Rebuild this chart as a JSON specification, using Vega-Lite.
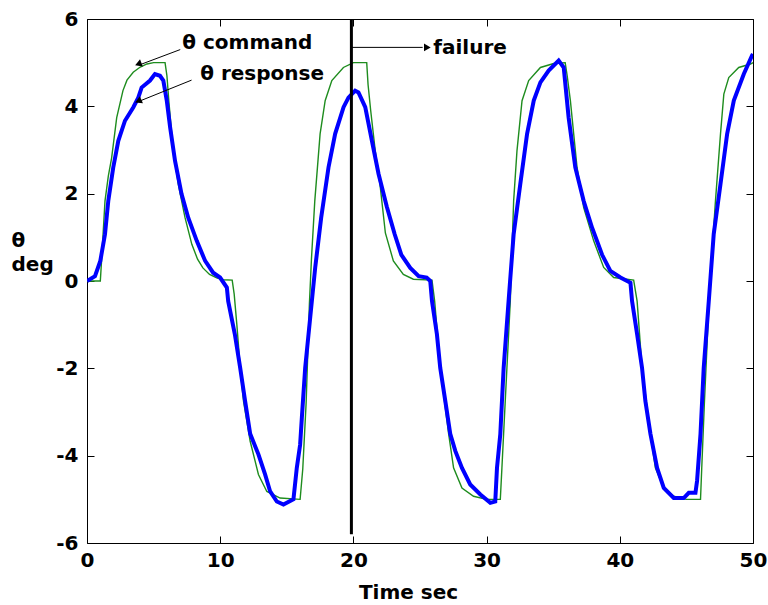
{
  "$schema": "https://vega.github.io/schema/vega-lite/v6.json",
  "width": 666,
  "height": 524,
  "autosize": {"type": "none"},
  "padding": {"left": 87, "top": 19, "right": 15, "bottom": 62},
  "background": "white",
  "config": {
    "view": {"stroke": "black", "strokeWidth": 1},
    "font": "DejaVu Sans",
    "axis": {"grid": false, "zindex": 1, "domain": false, "tickColor": "black", "tickWidth": 1, "tickSize": 7, "offset": -7, "labelFont": "DejaVu Sans", "labelFontWeight": "bold", "labelFontSize": 20, "labelColor": "black", "titleFont": "DejaVu Sans", "titleFontWeight": "bold", "titleFontSize": 20, "titleColor": "black"}
  },
  "datasets": {
    "series": [
      {"t": 0, "v": 0, "s": "command"}, {"t": 1.0, "v": 0, "s": "command"}, {"t": 1.1, "v": 0.5, "s": "command"}, {"t": 1.35, "v": 1.83, "s": "command"}, {"t": 1.6, "v": 2.4, "s": "command"}, {"t": 1.85, "v": 2.82, "s": "command"}, {"t": 2.23, "v": 3.74, "s": "command"}, {"t": 2.7, "v": 4.36, "s": "command"}, {"t": 3.0, "v": 4.6, "s": "command"}, {"t": 3.47, "v": 4.78, "s": "command"}, {"t": 4.0, "v": 4.9, "s": "command"}, {"t": 4.5, "v": 4.97, "s": "command"}, {"t": 5.0, "v": 5.0, "s": "command"}, {"t": 5.86, "v": 5.0, "s": "command"}, {"t": 6.0, "v": 4.7, "s": "command"}, {"t": 6.15, "v": 4.1, "s": "command"}, {"t": 6.36, "v": 3.37, "s": "command"}, {"t": 6.6, "v": 2.75, "s": "command"}, {"t": 6.85, "v": 2.22, "s": "command"}, {"t": 7.36, "v": 1.45, "s": "command"}, {"t": 7.87, "v": 0.84, "s": "command"}, {"t": 8.3, "v": 0.5, "s": "command"}, {"t": 8.7, "v": 0.3, "s": "command"}, {"t": 9.2, "v": 0.15, "s": "command"}, {"t": 9.74, "v": 0.07, "s": "command"}, {"t": 10.2, "v": 0.03, "s": "command"}, {"t": 10.9, "v": 0.02, "s": "command"}, {"t": 11.05, "v": -0.3, "s": "command"}, {"t": 11.25, "v": -1.0, "s": "command"}, {"t": 11.5, "v": -1.99, "s": "command"}, {"t": 11.75, "v": -2.75, "s": "command"}, {"t": 12.25, "v": -3.67, "s": "command"}, {"t": 12.87, "v": -4.43, "s": "command"}, {"t": 13.5, "v": -4.82, "s": "command"}, {"t": 14.5, "v": -4.97, "s": "command"}, {"t": 16.0, "v": -5.0, "s": "command"}, {"t": 16.2, "v": -4.3, "s": "command"}, {"t": 16.45, "v": -2.8, "s": "command"}, {"t": 16.7, "v": -0.5, "s": "command"}, {"t": 16.85, "v": 0.5, "s": "command"}, {"t": 17.1, "v": 1.83, "s": "command"}, {"t": 17.5, "v": 3.37, "s": "command"}, {"t": 17.88, "v": 4.13, "s": "command"}, {"t": 18.38, "v": 4.59, "s": "command"}, {"t": 19.25, "v": 4.89, "s": "command"}, {"t": 20.0, "v": 5.0, "s": "command"}, {"t": 21.0, "v": 5.0, "s": "command"}, {"t": 21.1, "v": 4.5, "s": "command"}, {"t": 21.3, "v": 3.9, "s": "command"}, {"t": 21.64, "v": 2.98, "s": "command"}, {"t": 22.0, "v": 2.2, "s": "command"}, {"t": 22.4, "v": 1.1, "s": "command"}, {"t": 23.0, "v": 0.46, "s": "command"}, {"t": 23.75, "v": 0.15, "s": "command"}, {"t": 24.5, "v": 0.04, "s": "command"}, {"t": 25.9, "v": 0.02, "s": "command"}, {"t": 26.1, "v": -0.46, "s": "command"}, {"t": 26.52, "v": -1.99, "s": "command"}, {"t": 27.15, "v": -3.5, "s": "command"}, {"t": 27.52, "v": -4.28, "s": "command"}, {"t": 28.15, "v": -4.74, "s": "command"}, {"t": 29.02, "v": -4.93, "s": "command"}, {"t": 30.0, "v": -5.0, "s": "command"}, {"t": 31.03, "v": -5.0, "s": "command"}, {"t": 31.15, "v": -4.28, "s": "command"}, {"t": 31.4, "v": -2.75, "s": "command"}, {"t": 31.78, "v": -0.46, "s": "command"}, {"t": 32.03, "v": 1.83, "s": "command"}, {"t": 32.28, "v": 2.98, "s": "command"}, {"t": 32.66, "v": 4.13, "s": "command"}, {"t": 33.16, "v": 4.59, "s": "command"}, {"t": 34.04, "v": 4.89, "s": "command"}, {"t": 35.04, "v": 4.98, "s": "command"}, {"t": 35.9, "v": 5.0, "s": "command"}, {"t": 36.05, "v": 4.7, "s": "command"}, {"t": 36.29, "v": 4.13, "s": "command"}, {"t": 36.79, "v": 2.6, "s": "command"}, {"t": 37.29, "v": 1.68, "s": "command"}, {"t": 38.04, "v": 0.92, "s": "command"}, {"t": 38.79, "v": 0.31, "s": "command"}, {"t": 39.54, "v": 0.08, "s": "command"}, {"t": 41.04, "v": 0.02, "s": "command"}, {"t": 41.3, "v": -0.46, "s": "command"}, {"t": 41.67, "v": -1.99, "s": "command"}, {"t": 42.3, "v": -3.5, "s": "command"}, {"t": 42.67, "v": -4.28, "s": "command"}, {"t": 43.3, "v": -4.74, "s": "command"}, {"t": 44.05, "v": -4.93, "s": "command"}, {"t": 45.0, "v": -5.0, "s": "command"}, {"t": 46.06, "v": -5.0, "s": "command"}, {"t": 46.15, "v": -4.3, "s": "command"}, {"t": 46.35, "v": -2.8, "s": "command"}, {"t": 46.65, "v": -0.8, "s": "command"}, {"t": 46.85, "v": 0.3, "s": "command"}, {"t": 47.18, "v": 1.83, "s": "command"}, {"t": 47.56, "v": 3.37, "s": "command"}, {"t": 47.81, "v": 4.28, "s": "command"}, {"t": 48.18, "v": 4.66, "s": "command"}, {"t": 48.93, "v": 4.89, "s": "command"}, {"t": 49.81, "v": 4.97, "s": "command"}, {"t": 50, "v": 5.0, "s": "command"},
      {"t": 0, "v": 0, "s": "response"}, {"t": 0.6, "v": 0.11, "s": "response"}, {"t": 1.0, "v": 0.46, "s": "response"}, {"t": 1.35, "v": 1.07, "s": "response"}, {"t": 1.6, "v": 1.84, "s": "response"}, {"t": 1.97, "v": 2.6, "s": "response"}, {"t": 2.35, "v": 3.21, "s": "response"}, {"t": 2.85, "v": 3.67, "s": "response"}, {"t": 3.48, "v": 3.98, "s": "response"}, {"t": 3.85, "v": 4.2, "s": "response"}, {"t": 4.1, "v": 4.43, "s": "response"}, {"t": 4.73, "v": 4.59, "s": "response"}, {"t": 5.1, "v": 4.74, "s": "response"}, {"t": 5.48, "v": 4.7, "s": "response"}, {"t": 5.73, "v": 4.59, "s": "response"}, {"t": 5.99, "v": 4.13, "s": "response"}, {"t": 6.24, "v": 3.52, "s": "response"}, {"t": 6.61, "v": 2.75, "s": "response"}, {"t": 7.1, "v": 1.99, "s": "response"}, {"t": 7.6, "v": 1.45, "s": "response"}, {"t": 8.24, "v": 0.92, "s": "response"}, {"t": 8.87, "v": 0.46, "s": "response"}, {"t": 9.47, "v": 0.19, "s": "response"}, {"t": 9.99, "v": 0.08, "s": "response"}, {"t": 10.5, "v": -0.15, "s": "response"}, {"t": 10.6, "v": -0.46, "s": "response"}, {"t": 11.1, "v": -1.22, "s": "response"}, {"t": 11.5, "v": -1.99, "s": "response"}, {"t": 11.87, "v": -2.75, "s": "response"}, {"t": 12.25, "v": -3.5, "s": "response"}, {"t": 12.87, "v": -3.97, "s": "response"}, {"t": 13.37, "v": -4.43, "s": "response"}, {"t": 13.75, "v": -4.82, "s": "response"}, {"t": 14.25, "v": -5.05, "s": "response"}, {"t": 14.75, "v": -5.12, "s": "response"}, {"t": 15.5, "v": -5.0, "s": "response"}, {"t": 15.75, "v": -4.28, "s": "response"}, {"t": 16.0, "v": -3.75, "s": "response"}, {"t": 16.13, "v": -3.13, "s": "response"}, {"t": 16.38, "v": -1.99, "s": "response"}, {"t": 16.88, "v": -0.46, "s": "response"}, {"t": 17.13, "v": 0.3, "s": "response"}, {"t": 17.58, "v": 1.45, "s": "response"}, {"t": 18.13, "v": 2.6, "s": "response"}, {"t": 18.63, "v": 3.37, "s": "response"}, {"t": 19.26, "v": 3.98, "s": "response"}, {"t": 19.63, "v": 4.2, "s": "response"}, {"t": 20.13, "v": 4.36, "s": "response"}, {"t": 20.38, "v": 4.32, "s": "response"}, {"t": 20.89, "v": 3.98, "s": "response"}, {"t": 21.39, "v": 3.21, "s": "response"}, {"t": 21.89, "v": 2.45, "s": "response"}, {"t": 22.51, "v": 1.7, "s": "response"}, {"t": 23.1, "v": 1.07, "s": "response"}, {"t": 23.6, "v": 0.6, "s": "response"}, {"t": 24.27, "v": 0.3, "s": "response"}, {"t": 24.9, "v": 0.11, "s": "response"}, {"t": 25.5, "v": 0.08, "s": "response"}, {"t": 25.77, "v": 0, "s": "response"}, {"t": 25.9, "v": -0.46, "s": "response"}, {"t": 26.27, "v": -1.22, "s": "response"}, {"t": 26.52, "v": -1.99, "s": "response"}, {"t": 26.9, "v": -2.75, "s": "response"}, {"t": 27.27, "v": -3.5, "s": "response"}, {"t": 27.65, "v": -3.89, "s": "response"}, {"t": 28.15, "v": -4.28, "s": "response"}, {"t": 28.77, "v": -4.66, "s": "response"}, {"t": 29.53, "v": -4.89, "s": "response"}, {"t": 30.28, "v": -5.08, "s": "response"}, {"t": 30.65, "v": -5.05, "s": "response"}, {"t": 30.78, "v": -4.28, "s": "response"}, {"t": 31.03, "v": -3.5, "s": "response"}, {"t": 31.28, "v": -1.99, "s": "response"}, {"t": 31.65, "v": -0.46, "s": "response"}, {"t": 32.03, "v": 1.07, "s": "response"}, {"t": 32.53, "v": 2.22, "s": "response"}, {"t": 33.04, "v": 3.37, "s": "response"}, {"t": 33.54, "v": 4.13, "s": "response"}, {"t": 34.04, "v": 4.55, "s": "response"}, {"t": 34.66, "v": 4.82, "s": "response"}, {"t": 35.41, "v": 5.05, "s": "response"}, {"t": 35.79, "v": 4.89, "s": "response"}, {"t": 36.16, "v": 3.74, "s": "response"}, {"t": 36.66, "v": 2.6, "s": "response"}, {"t": 37.29, "v": 1.83, "s": "response"}, {"t": 37.92, "v": 1.22, "s": "response"}, {"t": 38.67, "v": 0.6, "s": "response"}, {"t": 39.29, "v": 0.23, "s": "response"}, {"t": 40.05, "v": 0.08, "s": "response"}, {"t": 40.8, "v": -0.04, "s": "response"}, {"t": 40.92, "v": -0.46, "s": "response"}, {"t": 41.3, "v": -1.22, "s": "response"}, {"t": 41.67, "v": -1.99, "s": "response"}, {"t": 41.92, "v": -2.75, "s": "response"}, {"t": 42.3, "v": -3.5, "s": "response"}, {"t": 42.8, "v": -4.28, "s": "response"}, {"t": 43.3, "v": -4.74, "s": "response"}, {"t": 44.05, "v": -4.97, "s": "response"}, {"t": 44.8, "v": -4.97, "s": "response"}, {"t": 45.18, "v": -4.85, "s": "response"}, {"t": 45.68, "v": -4.85, "s": "response"}, {"t": 45.8, "v": -4.58, "s": "response"}, {"t": 46.06, "v": -3.5, "s": "response"}, {"t": 46.3, "v": -1.99, "s": "response"}, {"t": 46.68, "v": -0.46, "s": "response"}, {"t": 47.05, "v": 1.07, "s": "response"}, {"t": 47.56, "v": 2.22, "s": "response"}, {"t": 48.06, "v": 3.37, "s": "response"}, {"t": 48.56, "v": 4.13, "s": "response"}, {"t": 49.31, "v": 4.74, "s": "response"}, {"t": 49.94, "v": 5.17, "s": "response"}, {"t": 50, "v": 5.2, "s": "response"}
    ],
    "arrows": [
      {"x1": 7.0, "y1": 5.3, "x2": 3.95, "y2": 4.95},
      {"x1": 7.85, "y1": 4.6, "x2": 3.95, "y2": 4.12},
      {"x1": 19.85, "y1": 5.35, "x2": 25.2, "y2": 5.35}
    ],
    "heads": [
      {"x": 3.85, "y": 4.97, "angle": 249},
      {"x": 3.85, "y": 4.12, "angle": 246},
      {"x": 25.55, "y": 5.35, "angle": 90}
    ],
    "labels": [
      {"x": 7.15, "y": 5.32, "text": "θ command"},
      {"x": 8.5, "y": 4.6, "text": "θ response"},
      {"x": 26.0, "y": 5.2, "text": "failure"}
    ]
  },
  "resolve": {"axis": {"x": "independent", "y": "independent"}},
  "layer": [
    {
      "data": {"name": "series"},
      "mark": {"type": "line", "clip": true},
      "encoding": {
        "x": {"field": "t", "type": "quantitative", "scale": {"domain": [0, 50], "nice": false, "zero": false},
          "axis": {"orient": "bottom", "values": [0, 10, 20, 30, 40, 50], "labelPadding": 7, "labelExpr": "'' + datum.value", "title": "Time sec", "titlePadding": 12, "titleX": 321, "labelFlush": false}},
        "y": {"field": "v", "type": "quantitative", "scale": {"domain": [-6, 6], "nice": false, "zero": false},
          "axis": {"orient": "left", "values": [-6, -4, -2, 0, 2, 4, 6], "labelPadding": 9, "labelExpr": "'' + datum.value", "title": ["θ", "deg"], "titleAngle": 0, "titleX": -83, "titleY": 227, "titleAlign": "left", "titleBaseline": "alphabetic", "titleLineHeight": 24, "labelFlush": false}},
        "color": {"field": "s", "type": "nominal", "scale": {"domain": ["response", "command"], "range": ["#0000ff", "#1e8c1e"]}, "legend": null},
        "strokeWidth": {"field": "s", "type": "nominal", "scale": {"domain": ["response", "command"], "range": [4, 1.4]}, "legend": null},
        "order": {"field": "t", "type": "quantitative"}
      }
    },
    {
      "data": {"values": [{"x": 19.85, "y": 6, "y2": -5.8}]},
      "mark": {"type": "rule", "color": "black", "strokeWidth": 3},
      "encoding": {
        "x": {"field": "x", "type": "quantitative", "axis": {"orient": "top", "values": [0, 10, 20, 30, 40, 50], "labels": false, "title": null}},
        "y": {"field": "y", "type": "quantitative", "axis": {"orient": "right", "values": [-6, -4, -2, 0, 2, 4, 6], "labels": false, "title": null}},
        "y2": {"field": "y2"}
      }
    },
    {
      "data": {"name": "arrows"},
      "mark": {"type": "rule", "color": "black", "strokeWidth": 1},
      "encoding": {
        "x": {"field": "x1", "type": "quantitative", "axis": null},
        "y": {"field": "y1", "type": "quantitative", "axis": null},
        "x2": {"field": "x2"},
        "y2": {"field": "y2"}
      }
    },
    {
      "data": {"name": "heads"},
      "mark": {"type": "point", "shape": "triangle-up", "filled": true, "color": "black", "size": 60, "opacity": 1},
      "encoding": {
        "x": {"field": "x", "type": "quantitative", "axis": null},
        "y": {"field": "y", "type": "quantitative", "axis": null},
        "angle": {"field": "angle", "type": "quantitative", "scale": null}
      }
    },
    {
      "data": {"name": "labels"},
      "mark": {"type": "text", "align": "left", "baseline": "alphabetic", "font": "DejaVu Sans", "fontWeight": "bold", "fontSize": 20, "color": "black"},
      "encoding": {
        "x": {"field": "x", "type": "quantitative", "axis": null},
        "y": {"field": "y", "type": "quantitative", "axis": null},
        "text": {"field": "text"}
      }
    }
  ]
}
